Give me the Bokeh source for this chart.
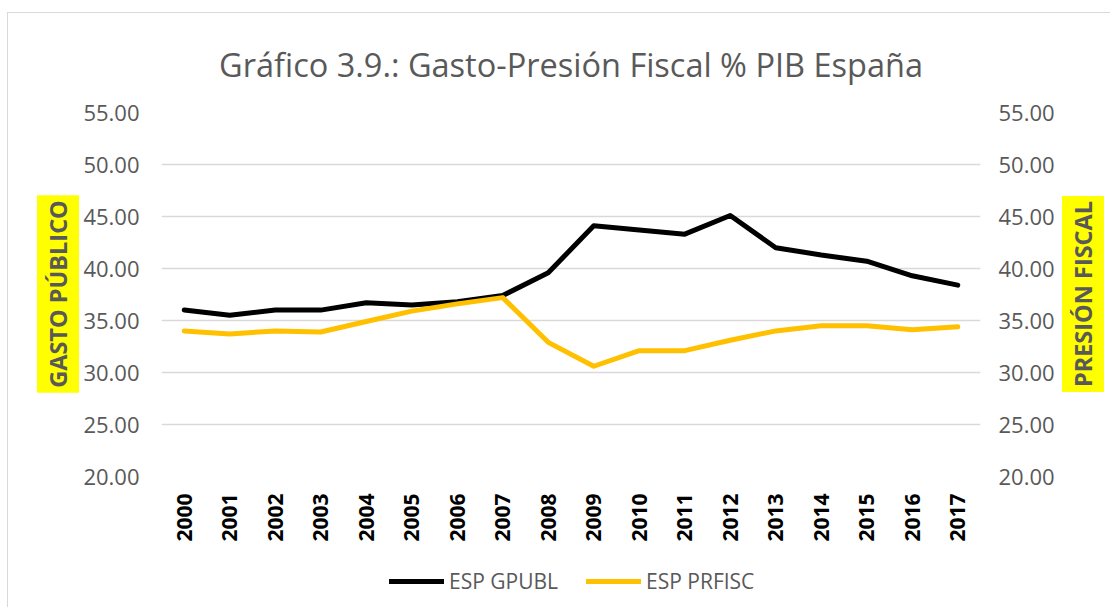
from math import pi
from bokeh.plotting import figure
from bokeh.layouts import row, column
from bokeh.models import (Label, Legend, LegendItem, LinearAxis, Range1d, FixedTicker,
                          NumeralTickFormatter, FactorRange)
from bokeh.embed import file_html
from bokeh.resources import INLINE

years = [str(y) for y in range(2000, 2018)]
gpubl = [36.0, 35.5, 36.0, 36.0, 36.7, 36.5, 36.8, 37.4, 39.6, 44.1, 43.7, 43.3,
         45.1, 42.0, 41.3, 40.7, 39.3, 38.4]
prfisc = [34.0, 33.7, 34.0, 33.9, 34.9, 35.9, 36.6, 37.2, 32.9, 30.6, 32.1, 32.1,
          33.1, 34.0, 34.5, 34.5, 34.1, 34.4]
y_ticks = [20, 25, 30, 35, 40, 45, 50, 55]
title_text = "Gráfico 3.9.: Gasto-Presión Fiscal % PIB España"
series_names = ["ESP GPUBL", "ESP PRFISC"]
left_label = "GASTO PÚBLICO"
right_label = "PRESIÓN FISCAL"

FONT = "Open Sans"
GRAY = "#595959"
YELLOW = "#FFFF00"
COLORS = ["#000000", "#FFC000"]

MAIN_W, MAIN_H = 980, 533
LEFT_W, RIGHT_W = 72, 50
LEG_H = 61

# ---- main chart ----
p = figure(width=MAIN_W, height=MAIN_H, x_range=FactorRange(*years),
           y_range=Range1d(y_ticks[0], y_ticks[-1]),
           output_backend="svg", toolbar_location=None,
           min_border_left=79, min_border_right=80,
           min_border_top=98, min_border_bottom=70)
p.outline_line_color = None
p.extra_y_ranges = {"right": Range1d(y_ticks[0], y_ticks[-1])}

p.title.text = title_text
p.title.align = "center"
p.title.text_font = FONT
p.title.text_font_size = "32.5px"
p.title.text_font_style = "normal"
p.title.text_color = GRAY
p.title.standoff = 52

ry = LinearAxis(y_range_name="right")
p.add_layout(ry, "right")

for ax, sd in [(p.yaxis[0], 16), (ry, 12)]:
    ax.ticker = FixedTicker(ticks=y_ticks)
    ax.formatter = NumeralTickFormatter(format="0.00")
    ax.major_label_text_font = FONT
    ax.major_label_text_font_size = "22px"
    ax.major_label_text_color = GRAY
    ax.axis_line_color = None
    ax.major_tick_line_color = None
    ax.minor_tick_line_color = None
    ax.major_label_standoff = sd

xa = p.xaxis[0]
xa.major_label_orientation = pi / 2
xa.major_label_text_font = FONT
xa.major_label_text_font_size = "21px"
xa.major_label_text_font_style = "bold"
xa.major_label_text_color = "#000000"
xa.axis_line_color = None
xa.major_tick_line_color = None
xa.major_label_standoff = 11

p.xgrid.grid_line_color = None
p.ygrid.grid_line_color = "#D9D9D9"
p.ygrid.grid_line_width = 1.3
p.ygrid.ticker = FixedTicker(ticks=y_ticks)

series = [gpubl, prfisc]
for vals, col in zip(series, COLORS):
    p.line(years, vals, line_color=col, line_width=5,
           line_cap="round", line_join="round")


def blank(w, h, xr=None):
    f = figure(width=w, height=h, x_range=xr if xr is not None else Range1d(0, 1),
               y_range=Range1d(0, 1), x_axis_type=None, y_axis_type=None,
               output_backend="svg", toolbar_location=None, min_border=0)
    f.outline_line_color = None
    f.grid.visible = False
    return f


def side_label(w, txt, cx):
    f = blank(w, MAIN_H)
    # screen y is measured from the bottom of the (row-aligned) plot frame
    f.add_layout(Label(x=cx, y=182.5, x_units="screen", y_units="screen",
                       text=txt, angle=pi / 2, text_align="center",
                       text_baseline="middle", text_font=FONT,
                       text_font_size="23.5px", text_font_style="bold",
                       text_color=GRAY, background_fill_color=YELLOW, padding=5))
    return f


left_fig = side_label(LEFT_W, left_label, 49.5)
right_fig = side_label(RIGHT_W, right_label, 22.5)

# ---- legend strip (series drawn off-range, only their legend swatches show) ----
lg = blank(LEFT_W + MAIN_W + RIGHT_W, LEG_H, xr=FactorRange(*years))
items = []
for name, vals, col in zip(series_names, series, COLORS):
    r = lg.line(years, vals, line_color=col, line_width=5, line_cap="round")
    items.append(LegendItem(label=name, renderers=[r]))
legend = Legend(items=items, orientation="horizontal", location=(381, 12),
                label_text_font=FONT, label_text_font_size="21px",
                label_text_color=GRAY, glyph_width=55, glyph_height=20,
                label_standoff=5, spacing=28, border_line_color=None,
                background_fill_alpha=0, margin=0, padding=4)
lg.add_layout(legend)

layout = column(row(left_fig, p, right_fig), lg)
layout.styles = {"margin-left": "7px", "margin-top": "12px",
                 "border-top": "1px solid #d9d9d9", "border-left": "1px solid #d9d9d9"}

open("out.html", "w").write(file_html(layout, INLINE))
